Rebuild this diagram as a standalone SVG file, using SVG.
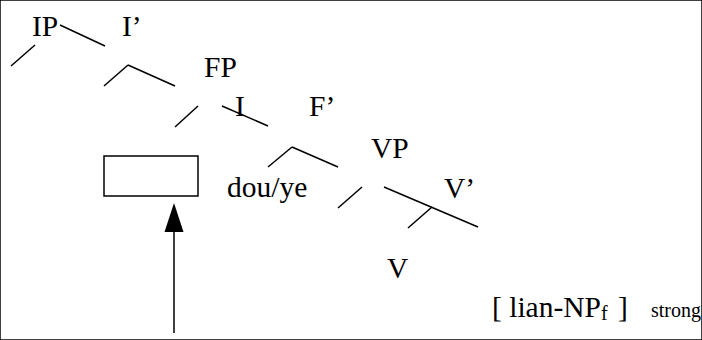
<svg xmlns="http://www.w3.org/2000/svg" width="702" height="340" viewBox="0 0 702 340">
<defs>
<style>
.t{font-size:29.5px}
.s{font-size:20px}
line,rect{stroke:#000;stroke-width:1.5;fill:none}
</style>
</defs>
<rect width="702" height="340" fill="#fff"/>
<g id="connectors">
<line x1="35" y1="45" x2="11" y2="66"/>
<line x1="60" y1="25" x2="105" y2="46"/>
<line x1="128" y1="65" x2="104" y2="86"/>
<line x1="128" y1="65" x2="175" y2="86"/>
<line x1="198" y1="106" x2="175" y2="127"/>
<line x1="222" y1="106" x2="268" y2="126"/>
<line x1="292" y1="147" x2="268" y2="167"/>
<line x1="292" y1="147" x2="338" y2="167"/>
<line x1="362" y1="187" x2="338" y2="208"/>
<line x1="384" y1="187" x2="478" y2="227"/>
<line x1="432" y1="207" x2="408" y2="228"/>
<path d="M174,333 L174,230" stroke="#000" stroke-width="1.5"/>
<path d="M164.5,232 L174,203 L183.5,232 z" fill="#000"/>
</g>
<g font-family="'Liberation Serif', 'Times New Roman', serif" fill="#000">
<g id="IP"><text class="t" x="32" y="36">IP</text></g>
<g id="I1"><text class="t" x="122" y="36">I’</text></g>
<g id="FP"><text class="t" x="204" y="77">FP</text></g>
<g id="I"><text class="t" x="235" y="116">I</text></g>
<g id="F1"><text class="t" x="309" y="116">F’</text></g>
<g id="VP"><text class="t" x="371" y="158">VP</text></g>
<g id="douye"><text class="t" x="227" y="197">dou/ye</text></g>
<g id="V1"><text class="t" x="444" y="198">V’</text></g>
<g id="V"><text class="t" x="387" y="278">V</text></g>
<g id="lian"><text class="t" x="492" y="317">[ lian-NP<tspan font-size="20" x="601" y="320">f</tspan><tspan x="618" y="317">]</tspan><tspan class="s" x="651" y="317">strong</tspan></text></g>
</g>
<g id="box"><rect x="104" y="156" width="94" height="40"/></g>
</svg>
